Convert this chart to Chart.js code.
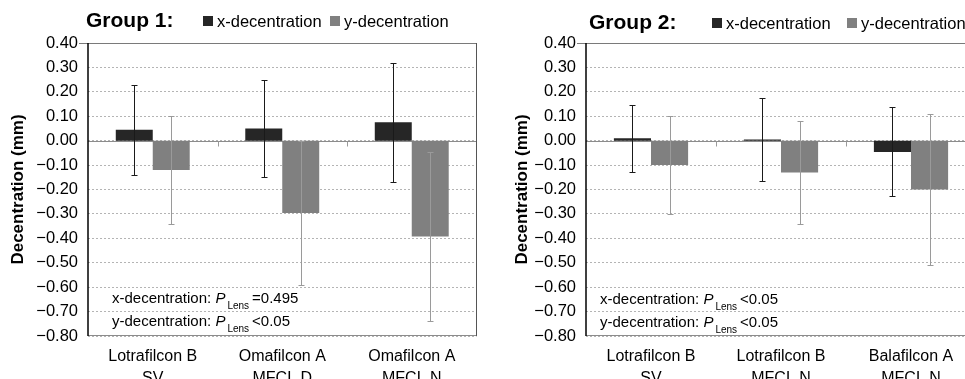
<!DOCTYPE html>
<html>
<head>
<meta charset="utf-8">
<script src="https://cdn.jsdelivr.net/npm/chart.js@4/dist/chart.umd.min.js"></script>
<style>
  html, body { margin: 0; padding: 0; background: #fff; overflow: hidden; width: 965px; height: 379px; }
  .panel { position: absolute; top: 0; height: 379px; }
  #g1 { left: 0; width: 485px; }
  #g2 { left: 504px; width: 481px; }
</style>
</head>
<body>
<div class="panel" id="g1"><canvas id="c1"></canvas></div>
<div class="panel" id="g2"><canvas id="c2"></canvas></div>
<script>
// data (mean decentration, mm, and SD)
const seriesNames = ['x-decentration', 'y-decentration'];

const group1Lenses = [['Lotrafilcon B', 'SV'], ['Omafilcon A', 'MFCL D'], ['Omafilcon A', 'MFCL N']];
const group1X = [0.045, 0.05, 0.075];
const group1XSd = [0.185, 0.198, 0.245];
const group1Y = [-0.12, -0.296, -0.393];
const group1YSd = [0.222, 0.296, 0.347];
const group1P = ['=0.495', '<0.05'];

const group2Lenses = [['Lotrafilcon B', 'SV'], ['Lotrafilcon B', 'MFCL N'], ['Balafilcon A', 'MFCL N']];
const group2X = [0.01, 0.005, -0.046];
const group2XSd = [0.138, 0.171, 0.182];
const group2Y = [-0.10, -0.13, -0.20];
const group2YSd = [0.20, 0.21, 0.31];
const group2P = ['<0.05', '<0.05'];

const yMin = -0.8, yMax = 0.4, yStep = 0.1;

const FAM = '"Liberation Sans", Arial, sans-serif';
Chart.defaults.font.family = FAM;
Chart.defaults.color = '#000';

function fmt(v) {
  if (Math.abs(v) < 1e-9) return '0.00';
  return (v < 0 ? '\u2212' : '') + Math.abs(v).toFixed(2);
}

function hline(ctx, x1, x2, y, color, w) {
  ctx.save();
  ctx.strokeStyle = color; ctx.lineWidth = w || 1;
  ctx.beginPath(); ctx.moveTo(x1, y); ctx.lineTo(x2, y); ctx.stroke();
  ctx.restore();
}
function vline(ctx, x, y1, y2, color, w) {
  ctx.save();
  ctx.strokeStyle = color; ctx.lineWidth = w || 1;
  ctx.beginPath(); ctx.moveTo(x, y1); ctx.lineTo(x, y2); ctx.stroke();
  ctx.restore();
}

function makePanel(canvasId, cfg) {
  const frame = {
    id: 'frame',
    beforeDatasetsDraw(chart) {
      const { ctx, chartArea: a, scales: { x, y } } = chart;
      const y0 = Math.round(y.getPixelForValue(0)) + 0.5;
      hline(ctx, a.left, a.right, y0, '#8c8c8c', 1);
      // category tick marks on the zero line
      for (let i = 0; i < chart.data.labels.length - 1; i++) {
        const bx = Math.round((x.getPixelForTick(i) + x.getPixelForTick(i + 1)) / 2) + 0.5;
        vline(ctx, bx, y0, y0 + 5, '#9a9a9a', 1);
      }
    },
    afterDatasetsDraw(chart) {
      const { ctx, scales: { y } } = chart;
      chart.data.datasets.forEach((ds, di) => {
        const meta = chart.getDatasetMeta(di);
        meta.data.forEach((bar, i) => {
          const v = ds.data[i], sd = ds.sd[i];
          const px = Math.round(bar.x) + 0.5;
          const top = Math.round(y.getPixelForValue(v + sd)) + 0.5;
          const bot = Math.round(y.getPixelForValue(v - sd)) + 0.5;
          vline(ctx, px, top, bot, ds.errColor, 1);
          hline(ctx, px - 3, px + 3, top, ds.errColor, 1);
          hline(ctx, px - 3, px + 3, bot, ds.errColor, 1);
        });
      });
    },
    afterDraw(chart) {
      const { ctx, chartArea: a } = chart;
      // plot frame
      hline(ctx, a.left - 9, a.right, Math.round(a.top) + 0.5, '#7a7a7a', 1);
      hline(ctx, a.left, a.right, Math.round(a.bottom) - 0.5, '#8c8c8c', 1);
      vline(ctx, Math.round(a.right) - 0.5, a.top, a.bottom, '#555', 1);
      vline(ctx, Math.round(a.left), a.top, a.bottom, '#000', 1.5);

      // group title and legend
      ctx.save();
      ctx.textBaseline = 'middle';
      ctx.fillStyle = '#000';
      ctx.font = 'bold 21px ' + FAM;
      ctx.fillText(cfg.title, cfg.titleX, cfg.headY);
      ctx.font = '16.5px ' + FAM;
      chart.data.datasets.forEach((ds, i) => {
        const lx = cfg.legendX[i];
        ctx.fillStyle = ds.backgroundColor;
        ctx.fillRect(lx, cfg.headY - 5, 10, 10);
        ctx.fillStyle = '#000';
        ctx.fillText(ds.label, lx + 14, cfg.headY + 1);
      });

      // P values
      ctx.textBaseline = 'alphabetic';
      seriesNames.forEach((name, i) => {
        let tx = cfg.annX;
        const by = cfg.annY[i];
        ctx.font = '15px ' + FAM;
        const head = name + ': ';
        ctx.fillText(head, tx, by); tx += ctx.measureText(head).width;
        ctx.font = 'italic 15px ' + FAM;
        ctx.fillText('P', tx, by); tx += ctx.measureText('P').width + 2;
        ctx.font = '10px ' + FAM;
        ctx.fillText('Lens', tx, by + 6); tx += ctx.measureText('Lens').width + 3;
        ctx.font = '15px ' + FAM;
        ctx.fillText(cfg.pValues[i], tx, by);
      });
      ctx.restore();
    }
  };

  return new Chart(document.getElementById(canvasId), {
    type: 'bar',
    data: {
      labels: cfg.labels,
      datasets: [
        { label: seriesNames[0], data: cfg.xVals, sd: cfg.xSd, backgroundColor: '#262626', errColor: '#1a1a1a', borderWidth: 0 },
        { label: seriesNames[1], data: cfg.yVals, sd: cfg.ySd, backgroundColor: '#808080', errColor: '#9a9a9a', borderWidth: 0 }
      ]
    },
    options: {
      responsive: true,
      maintainAspectRatio: false,
      animation: false,
      events: [],
      layout: { padding: { top: 43, right: cfg.padRight, left: 0, bottom: 0 } },
      datasets: { bar: { categoryPercentage: 0.571, barPercentage: 1 } },
      plugins: { legend: { display: false }, tooltip: { enabled: false } },
      scales: {
        x: {
          afterFit(s) { s.height = 43; },
          grid: { display: false, drawTicks: false },
          border: { display: false },
          ticks: { color: '#000', font: { size: 16, lineHeight: 1.35 }, padding: 10, maxRotation: 0, autoSkip: false }
        },
        y: {
          min: yMin,
          max: yMax,
          afterFit(s) { s.width = cfg.yWidth; },
          grid: { color: '#b4b4b4', drawTicks: false, lineWidth: 1 },
          border: { display: false, dash: [2, 2] },
          ticks: { stepSize: yStep, padding: 10, color: '#000', font: { size: 16.5 }, callback: v => fmt(v) },
          title: { display: true, text: 'Decentration (mm)', color: '#000', font: { size: 17, weight: 'bold' }, padding: { top: 8, bottom: 0 } }
        }
      }
    },
    plugins: [frame]
  });
}

makePanel('c1', {
  labels: group1Lenses, xVals: group1X, xSd: group1XSd, yVals: group1Y, ySd: group1YSd, pValues: group1P,
  title: 'Group 1:', titleX: 86, headY: 21, legendX: [203, 330],
  annX: 112, annY: [303, 326], yWidth: 88, padRight: 8.5
});
makePanel('c2', {
  labels: group2Lenses, xVals: group2X, xSd: group2XSd, yVals: group2Y, ySd: group2YSd, pValues: group2P,
  title: 'Group 2:', titleX: 85, headY: 23, legendX: [208, 343],
  annX: 96, annY: [304, 327], yWidth: 82, padRight: 9
});
</script>
</body>
</html>
